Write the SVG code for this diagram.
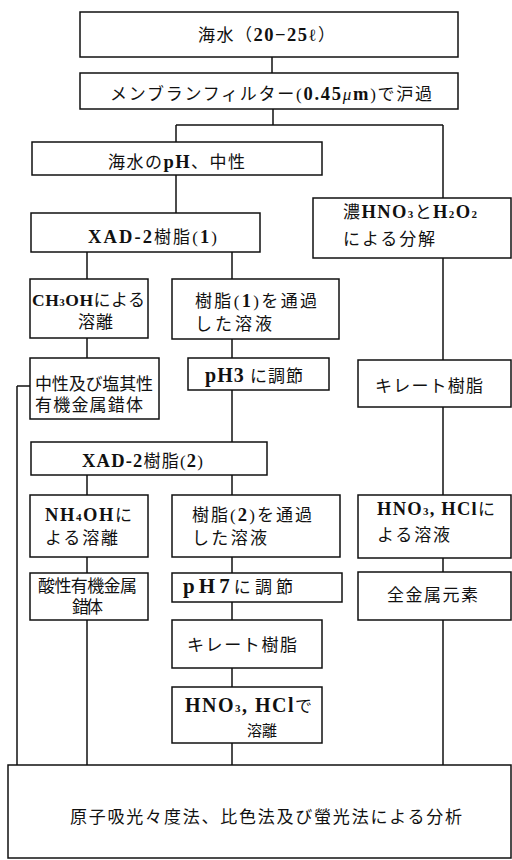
<svg xmlns="http://www.w3.org/2000/svg" width="512" height="860" viewBox="0 0 512 860">
<style>
.b{fill:#fff;stroke:#111;stroke-width:1.5}
.c line{stroke:#111;stroke-width:1.5}
text{font-family:"Liberation Serif","Noto Sans CJK JP",serif;font-size:17px;fill:#111}
.l{font-weight:bold;font-size:18.5px}
.s{font-size:11px;font-weight:bold}
</style>
<rect width="512" height="860" fill="#fff"/>
<g id="connectors" class="c">
<line x1="272" y1="57" x2="272" y2="73"/>
<line x1="273" y1="109" x2="273" y2="125"/>
<line x1="176" y1="125" x2="443" y2="125"/>
<line x1="176" y1="125" x2="176" y2="142"/>
<line x1="176" y1="175" x2="176" y2="213"/>
<line x1="443" y1="125" x2="443" y2="198"/>
<line x1="87" y1="252" x2="87" y2="279"/>
<line x1="232" y1="252" x2="232" y2="279"/>
<line x1="87" y1="338" x2="87" y2="358"/>
<line x1="232" y1="339" x2="232" y2="358"/>
<line x1="443" y1="258" x2="443" y2="360"/>
<line x1="232" y1="390" x2="232" y2="442"/>
<line x1="443" y1="407" x2="443" y2="495"/>
<line x1="17" y1="386" x2="30" y2="386"/>
<line x1="17" y1="386" x2="17" y2="765"/>
<line x1="87" y1="475" x2="87" y2="495"/>
<line x1="232" y1="475" x2="232" y2="495"/>
<line x1="87" y1="557" x2="87" y2="573"/>
<line x1="232" y1="557" x2="232" y2="573"/>
<line x1="443" y1="558" x2="443" y2="572"/>
<line x1="87" y1="620" x2="87" y2="765"/>
<line x1="232" y1="602" x2="232" y2="620"/>
<line x1="232" y1="668" x2="232" y2="687"/>
<line x1="232" y1="743" x2="232" y2="765"/>
<line x1="443" y1="620" x2="443" y2="765"/>
</g>
<g id="n1"><rect class="b" x="80" y="12" width="378" height="45"/><text x="198" y="41" textLength="137" lengthAdjust="spacing">海水（<tspan class="l">20−25</tspan>ℓ）</text></g>
<g id="n2"><rect class="b" x="80" y="73" width="378" height="36"/><text x="110" y="100" textLength="322" lengthAdjust="spacing">メンブランフィルター(<tspan class="l">0.45</tspan><tspan font-style="italic">μ</tspan><tspan class="l">m</tspan>)で沪過</text></g>
<g id="n3"><rect class="b" x="32" y="142" width="290" height="33"/><text x="108" y="168" textLength="137" lengthAdjust="spacing">海水の<tspan class="l">pH</tspan>、中性</text></g>
<g id="n4"><rect class="b" x="31" y="213" width="229" height="39"/><text x="88" y="243" textLength="129" lengthAdjust="spacing"><tspan class="l">XAD-2</tspan>樹脂(<tspan class="l">1</tspan>)</text></g>
<g id="n5"><rect class="b" x="313" y="198" width="198" height="60"/><text x="343" y="218" textLength="134" lengthAdjust="spacing">濃<tspan class="l">HNO</tspan><tspan class="s">3</tspan>と<tspan class="l">H</tspan><tspan class="s">2</tspan><tspan class="l">O</tspan><tspan class="s">2</tspan></text><text x="343" y="245" textLength="92" lengthAdjust="spacing">による分解</text></g>
<g id="n6"><rect class="b" x="30" y="279" width="118" height="59"/><text x="32" y="306" textLength="113" lengthAdjust="spacing"><tspan class="l" style="font-size:17.5px">CH</tspan><tspan class="s">3</tspan><tspan class="l" style="font-size:17.5px">OH</tspan>による</text><text x="78" y="328" textLength="35" lengthAdjust="spacing">溶離</text></g>
<g id="n7"><rect class="b" x="172" y="279" width="167" height="60"/><text x="195" y="307" textLength="122" lengthAdjust="spacing">樹脂(<tspan class="l">1</tspan>)を通過</text><text x="195" y="330" textLength="77" lengthAdjust="spacing">した溶液</text></g>
<g id="n8"><rect class="b" x="30" y="358" width="129" height="61"/><text x="35" y="390" textLength="118" lengthAdjust="spacing">中性及び塩其性</text><text x="35" y="411" textLength="108" lengthAdjust="spacing">有機金属錯体</text></g>
<g id="n9"><rect class="b" x="188" y="358" width="141" height="32"/><text x="205" y="382" textLength="98" lengthAdjust="spacing"><tspan class="l" style="font-size:20px">pH3</tspan> に調節</text></g>
<g id="n10"><rect class="b" x="358" y="360" width="153" height="47"/><text x="375" y="392" textLength="108" lengthAdjust="spacing">キレート樹脂</text></g>
<g id="n11"><rect class="b" x="31" y="442" width="236" height="33"/><text x="82" y="467" textLength="121" lengthAdjust="spacing"><tspan class="l">XAD-2</tspan>樹脂(<tspan class="l">2</tspan>)</text></g>
<g id="n12"><rect class="b" x="30" y="495" width="118" height="62"/><text x="45" y="521" textLength="87" lengthAdjust="spacing"><tspan class="l">NH</tspan><tspan class="s">4</tspan><tspan class="l">OH</tspan>に</text><text x="45" y="544" textLength="73" lengthAdjust="spacing">よる溶離</text></g>
<g id="n13"><rect class="b" x="172" y="495" width="168" height="62"/><text x="192" y="521" textLength="120" lengthAdjust="spacing">樹脂(<tspan class="l">2</tspan>)を通過</text><text x="192" y="544" textLength="75" lengthAdjust="spacing">した溶液</text></g>
<g id="n14"><rect class="b" x="358" y="495" width="153" height="63"/><text x="377" y="515" textLength="118" lengthAdjust="spacing"><tspan class="l">HNO</tspan><tspan class="s">3</tspan><tspan class="l">, HCl</tspan>に</text><text x="377" y="541" textLength="73" lengthAdjust="spacing">よる溶液</text></g>
<g id="n15"><rect class="b" x="30" y="573" width="118" height="47"/><text x="38" y="592" textLength="99" lengthAdjust="spacing">酸性有機金属</text><text x="72" y="613" textLength="31" lengthAdjust="spacing">錯体</text></g>
<g id="n16"><rect class="b" x="172" y="573" width="170" height="29"/><text x="183" y="593" textLength="110" lengthAdjust="spacing"><tspan class="l" style="font-size:21px">pH7</tspan>に調節</text></g>
<g id="n17"><rect class="b" x="358" y="572" width="153" height="48"/><text x="387" y="601" textLength="91" lengthAdjust="spacing">全金属元素</text></g>
<g id="n18"><rect class="b" x="172" y="620" width="150" height="48"/><text x="187" y="651" textLength="110" lengthAdjust="spacing">キレート樹脂</text></g>
<g id="n19"><rect class="b" x="172" y="687" width="150" height="56"/><text x="185" y="712" textLength="127" lengthAdjust="spacing"><tspan class="l" style="font-size:20px">HNO</tspan><tspan class="s">3</tspan><tspan class="l" style="font-size:20px">, HCl</tspan>で</text><text x="247" y="736" style="font-size:15px" textLength="30" lengthAdjust="spacing">溶離</text></g>
<g id="n20"><rect class="b" x="8" y="765" width="503" height="93"/><text x="70" y="823" textLength="392" lengthAdjust="spacing">原子吸光々度法、比色法及び螢光法による分析</text></g>
</svg>
